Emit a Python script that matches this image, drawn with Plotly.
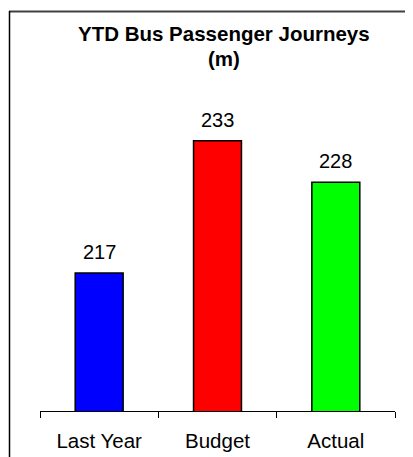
import plotly.graph_objects as go

categories = ["Last Year", "Budget", "Actual"]
values = [217, 233, 228]
bar_colors = ["#0000FF", "#FF0000", "#00FF00"]
title_lines = ["YTD Bus Passenger Journeys", "(m)"]
y_range = [200.3, 240]

# page body has an 8px margin; lay out in window pixels then offset
OFF = 8
W, H = 413 - OFF, 457 - OFF
L, R, T, B = 40 - OFF, 18, 83 - OFF, 46
pw, ph = W - L - R, H - T - B

def px_x(p):
    return (p - OFF - L) / pw

def px_y(p):
    return (H - B - (p - OFF)) / ph

FONT = "Arial, 'Liberation Sans', sans-serif"

fig = go.Figure()
fig.add_trace(go.Bar(
    x=categories, y=values,
    marker=dict(color=bar_colors, line=dict(color="#000000", width=1.5)),
    width=0.405,
    hoverinfo="skip",
))

annotations = []
for c, v in zip(categories, values):
    annotations.append(dict(
        x=c, y=v, xref="x", yref="y", text=str(v), showarrow=False,
        yanchor="middle", yshift=21,
        font=dict(family=FONT, size=20, color="#000000"),
    ))
title_y = [34, 58]
for t, yy in zip(title_lines, title_y):
    annotations.append(dict(
        x=px_x(224), y=px_y(yy), xref="paper", yref="paper", text="<b>%s</b>" % t,
        showarrow=False, xanchor="center", yanchor="middle",
        font=dict(family=FONT, size=20.5, color="#000000"),
    ))

shapes = [
    dict(type="line", xref="paper", yref="paper",
         x0=px_x(9), x1=px_x(460), y0=px_y(11.5), y1=px_y(11.5),
         line=dict(color="#404040", width=2)),
    dict(type="line", xref="paper", yref="paper",
         x0=px_x(9.5), x1=px_x(9.5), y0=px_y(11), y1=px_y(480),
         line=dict(color="#000000", width=1.5)),
]

fig.update_layout(
    width=W, height=H,
    margin=dict(l=L, r=R, t=T, b=B, pad=0, autoexpand=False),
    paper_bgcolor="#FFFFFF", plot_bgcolor="#FFFFFF",
    showlegend=False,
    annotations=annotations,
    shapes=shapes,
    xaxis=dict(
        type="category", range=[-0.5, 2.5],
        showline=True, linecolor="#000000", linewidth=1,
        ticks="outside", tickson="boundaries", ticklen=6, tickcolor="#000000", tickwidth=1,
        tickfont=dict(family=FONT, size=20.5, color="#000000"),
        showgrid=False, zeroline=False, fixedrange=True,
        ticklabelstandoff=11, automargin=False,
    ),
    yaxis=dict(
        range=y_range, visible=False, showgrid=False, zeroline=False, fixedrange=True,
        automargin=False,
    ),
)

fig.write_html("out.html", config={"displayModeBar": False})
